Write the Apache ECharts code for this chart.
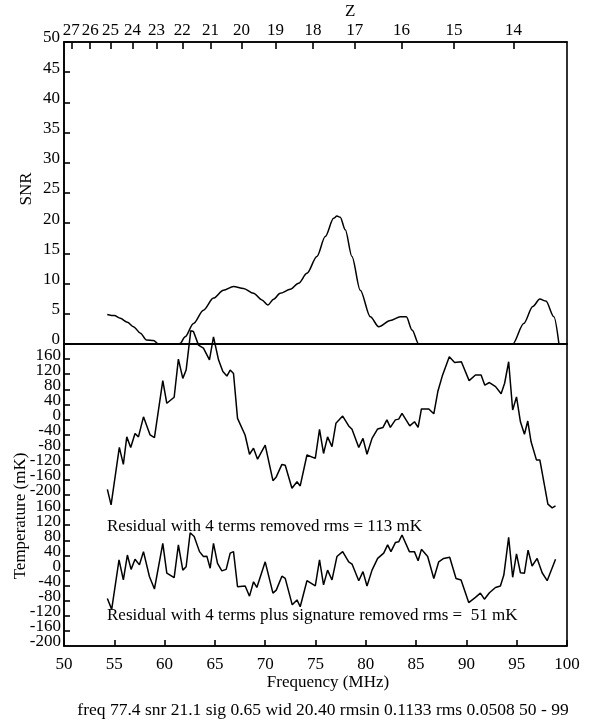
<!DOCTYPE html>
<html><head><meta charset="utf-8">
<script src="https://cdn.jsdelivr.net/npm/echarts@6/dist/echarts.min.js"></script>
<style>html,body{margin:0;padding:0;background:#fff}#c{width:590px;height:723px}</style>
</head><body><div id="c"></div>
<script>
// ---- data ----
const zLabels = [27, 26, 25, 24, 23, 22, 21, 20, 19, 18, 17, 16, 15, 14];
const freqTickLabels = [50, 55, 60, 65, 70, 75, 80, 85, 90, 95, 100];
const snrTickLabels = [0, 5, 10, 15, 20, 25, 30, 35, 40, 45, 50];
const tempTickLabels = [160, 120, 80, 40, 0, -40, -80, -120, -160, -200];

const snrFreq = [54.3, 55.0, 55.6, 56.3, 56.9, 57.6, 58.2, 58.9, 59.4, 61.3, 61.54, 62.04, 62.87, 63.86, 64.86, 65.85, 66.85, 67.84, 68.84, 69.67, 70.27, 70.83, 71.49, 72.49, 73.32, 74.15, 75.14, 75.97, 76.8, 77.13, 77.46, 77.96, 78.62, 79.45, 80.45, 81.28, 82.44, 83.43, 84.03, 84.6, 85.26, 94.6, 95.7, 96.6, 97.3, 97.9, 98.7, 99.2];
const snrValues = [4.9, 4.7, 4.25, 3.6, 2.87, 1.8, 0.66, 0.6, 0, 0, 0.1, 1.2, 3.4, 5.6, 7.6, 8.9, 9.5, 9.2, 8.4, 7.3, 6.46, 7.4, 8.4, 9.05, 10.05, 11.7, 14.5, 17.8, 20.8, 21.2, 21.0, 18.9, 14.5, 8.9, 4.5, 2.87, 3.9, 4.5, 4.5, 2.3, 0, 0, 3.4, 6.2, 7.45, 7.1, 4.5, 0];

const res4Freq = [54.31, 54.68, 55.5, 55.9, 56.24, 56.63, 57.06, 57.4, 57.9, 58.56, 58.99, 59.82, 60.22, 60.95, 61.37, 61.81, 62.14, 62.6, 62.87, 63.37, 63.86, 64.46, 64.86, 65.36, 65.79, 66.19, 66.52, 66.85, 67.25, 68.0, 68.44, 68.84, 69.24, 70.0, 70.77, 71.1, 71.66, 71.99, 72.66, 73.16, 73.48, 74.15, 74.98, 75.4, 75.8, 76.2, 76.64, 77.03, 77.7, 78.3, 78.63, 79.3, 79.72, 80.12, 80.62, 81.18, 81.71, 82.1, 82.44, 82.94, 83.27, 83.6, 84.37, 84.84, 85.2, 85.53, 86.26, 86.76, 87.16, 87.6, 88.3, 88.83, 89.5, 90.27, 90.9, 91.46, 91.83, 92.29, 92.9, 93.45, 93.8, 94.2, 94.6, 94.98, 95.37, 95.77, 96.1, 96.43, 96.96, 97.3, 98.1, 98.53, 98.86];
const res4Values = [-185, -226, -74, -119, -46, -74, -37, -46, 7, -41, -48, 103, 43, 59, 160, 109, 131, 235, 233, 197, 189, 158, 219, 158, 127, 115, 131, 122, 3, -41, -92, -76, -105, -68, -162, -152, -119, -121, -182, -165, -176, -94, -103, -26, -90, -46, -72, -10, 9, -17, -26, -74, -50, -92, -50, -25, -21, -1, -21, -1, 1, 16, -17, -6, -21, 28, 28, 15, 74, 115, 166, 151, 153, 103, 118, 118, 91, 98, 87, 68, 96, 153, 25, 60, -6, -39, -4, -59, -107, -107, -224, -234, -229];

const resSigFreq = [54.31, 54.74, 55.47, 55.9, 56.3, 56.67, 57.06, 57.5, 57.9, 58.49, 58.99, 59.82, 60.22, 60.95, 61.37, 61.81, 62.14, 62.54, 62.94, 63.47, 63.86, 64.2, 64.53, 64.86, 65.26, 65.69, 66.12, 66.52, 66.85, 67.25, 68.01, 68.44, 68.84, 69.17, 70.0, 70.77, 71.1, 71.66, 71.99, 72.69, 73.16, 73.48, 74.15, 74.98, 75.4, 75.8, 76.2, 76.64, 77.13, 77.7, 78.3, 78.63, 79.3, 79.72, 80.12, 80.62, 81.18, 81.78, 82.17, 82.5, 82.94, 83.27, 83.6, 84.33, 84.83, 85.2, 85.53, 86.15, 86.76, 87.25, 87.74, 88.34, 88.97, 89.47, 90.23, 90.9, 91.39, 91.79, 92.29, 92.89, 93.38, 93.72, 94.2, 94.6, 94.98, 95.37, 95.77, 96.13, 96.53, 97.03, 97.53, 98.03, 98.86];
const resSigValues = [-74, -103, 28, -25, 41, 3, 30, 15, 50, -16, -49, 72, -7, -19, 68, 1, 10, 100, 90, 50, 37, 38, 6, 72, 19, -1, 3, 46, 50, -43, -41, -68, -30, -45, 23, -60, -52, -15, -21, -91, -78, -96, -27, -41, 28, -38, 1, -25, 37, 50, 23, 17, -27, -3, -41, 1, 32, 46, 68, 50, 74, 76, 94, 50, 50, 26, 56, 37, -21, 23, 32, 35, -21, -25, -85, -71, -60, -76, -59, -45, -41, -12, 88, -18, 44, -6, -7, 54, 12, 32, -6, -27, 30];

const upperOffset = 400; // upper residual drawn 400 mK above the lower one

// ---- chart ----
const FONT = "'Liberation Serif', 'DejaVu Serif', serif";
const FS = 17;
const BLACK = '#000';
const zFreqs = zLabels.map(z => 1420.40575 / (1 + z));
const tMin = tempTickLabels[tempTickLabels.length - 1];

const zip = (xs, ys, off) => xs.map((x, i) => [x, ys[i] + (off || 0)]);

const axisLineStyle = { show: true, onZero: false, lineStyle: { color: BLACK, width: 1.6 } };
const labelBase = { color: BLACK, fontFamily: FONT, fontSize: FS };

const tempLabel = v => {
  if (v <= tempTickLabels[0]) return String(v);
  if (v <= tempTickLabels[0] + upperOffset) return String(v - upperOffset);
  return '';
};

const chart = echarts.init(document.getElementById('c'), null, { renderer: 'canvas' });
chart.setOption({
  animation: false,
  backgroundColor: '#fff',
  grid: [
    { left: 64, top: 42, width: 503, height: 302, show: true, borderColor: BLACK, borderWidth: 1.6, backgroundColor: 'transparent' },
    { left: 64, top: 344, width: 503, height: 302, show: true, borderColor: BLACK, borderWidth: 1.6, backgroundColor: 'transparent' }
  ],
  xAxis: [
    { type: 'value', gridIndex: 0, position: 'bottom', min: 50, max: 100, interval: 5,
      axisLine: axisLineStyle, axisTick: { show: false }, axisLabel: { show: false }, splitLine: { show: false } },
    { type: 'value', gridIndex: 0, position: 'top', min: 50, max: 100,
      axisLine: axisLineStyle,
      axisTick: { show: true, inside: true, length: 7, customValues: zFreqs, lineStyle: { color: BLACK, width: 1.6 } },
      axisLabel: Object.assign({}, labelBase, { margin: 3, customValues: zFreqs,
        formatter: v => { let best = 0, d = 1e9; zFreqs.forEach((f, i) => { if (Math.abs(f - v) < d) { d = Math.abs(f - v); best = i; } }); return String(zLabels[best]); } }),
      splitLine: { show: false } },
    { type: 'value', gridIndex: 1, position: 'bottom', min: freqTickLabels[0], max: freqTickLabels[freqTickLabels.length - 1], interval: 5,
      axisLine: axisLineStyle,
      axisTick: { show: true, inside: true, length: 6, lineStyle: { color: BLACK, width: 1.6 } },
      axisLabel: Object.assign({}, labelBase, { margin: 10, showMinLabel: true, showMaxLabel: true }),
      splitLine: { show: false } }
  ],
  yAxis: [
    { type: 'value', gridIndex: 0, min: snrTickLabels[0], max: snrTickLabels[snrTickLabels.length - 1], interval: 5,
      axisLine: axisLineStyle,
      axisTick: { show: true, inside: true, length: 6, lineStyle: { color: BLACK, width: 1.6 } },
      axisLabel: Object.assign({}, labelBase, { margin: 4, verticalAlign: 'bottom', lineHeight: 8, showMinLabel: true, showMaxLabel: true }),
      splitLine: { show: false } },
    { type: 'value', gridIndex: 1, position: 'left', min: tMin, max: 600, interval: 40,
      axisLine: axisLineStyle,
      axisTick: { show: true, inside: true, length: 6, lineStyle: { color: BLACK, width: 1.6 } },
      axisLabel: Object.assign({}, labelBase, { margin: 3, verticalAlign: 'bottom', lineHeight: 8, showMinLabel: false, showMaxLabel: false,
        formatter: tempLabel }),
      splitLine: { show: false } },
    { type: 'value', gridIndex: 1, position: 'left', offset: 0, min: tMin, max: 600, interval: 40,
      axisLine: { show: false, onZero: false }, axisTick: { show: false },
      axisLabel: Object.assign({}, labelBase, { margin: 3, verticalAlign: 'bottom', lineHeight: 8, showMinLabel: true, showMaxLabel: false,
        formatter: v => (v === tMin ? String(v) : '') }),
      splitLine: { show: false } }
  ],
  series: [
    { type: 'line', name: 'SNR', xAxisIndex: 0, yAxisIndex: 0, data: zip(snrFreq, snrValues),
      smooth: 0.3, smoothMonotone: 'x', showSymbol: false, lineStyle: { color: BLACK, width: 1.5 } },
    { type: 'line', name: 'Residual 4 terms', xAxisIndex: 2, yAxisIndex: 1, data: zip(res4Freq, res4Values, upperOffset),
      clip: false, showSymbol: false, lineStyle: { color: BLACK, width: 1.5 } },
    { type: 'line', name: 'Residual 4 terms + signature', xAxisIndex: 2, yAxisIndex: 1, data: zip(resSigFreq, resSigValues),
      showSymbol: false, lineStyle: { color: BLACK, width: 1.5 } }
  ],
  graphic: [
    { type: 'text', left: 345, top: 3, style: { text: 'Z', font: FS + 'px ' + FONT, fill: BLACK } },
    { type: 'text', x: 27, y: 189, rotation: Math.PI / 2, style: { text: 'SNR', font: FS + 'px ' + FONT, fill: BLACK, align: 'center', verticalAlign: 'middle' } },
    { type: 'text', x: 21, y: 516, rotation: Math.PI / 2, style: { text: 'Temperature (mK)', font: FS + 'px ' + FONT, fill: BLACK, align: 'center', verticalAlign: 'middle' } },
    { type: 'text', x: 328, y: 683, style: { text: 'Frequency (MHz)', font: FS + 'px ' + FONT, fill: BLACK, align: 'center', verticalAlign: 'middle' } },
    { type: 'text', x: 323, y: 710, style: { text: 'freq 77.4 snr 21.1 sig 0.65 wid 20.40 rmsin 0.1133 rms 0.0508 50 - 99', font: '17.5px ' + FONT, fill: BLACK, align: 'center', verticalAlign: 'middle' } },
    { type: 'text', x: 107, y: 527, style: { text: 'Residual with 4 terms removed rms = 113 mK', font: FS + 'px ' + FONT, fill: BLACK, align: 'left', verticalAlign: 'middle' } },
    { type: 'text', x: 107, y: 616, style: { text: 'Residual with 4 terms plus signature removed rms =  51 mK', font: FS + 'px ' + FONT, fill: BLACK, align: 'left', verticalAlign: 'middle' } }
  ]
});
</script>
</body></html>
